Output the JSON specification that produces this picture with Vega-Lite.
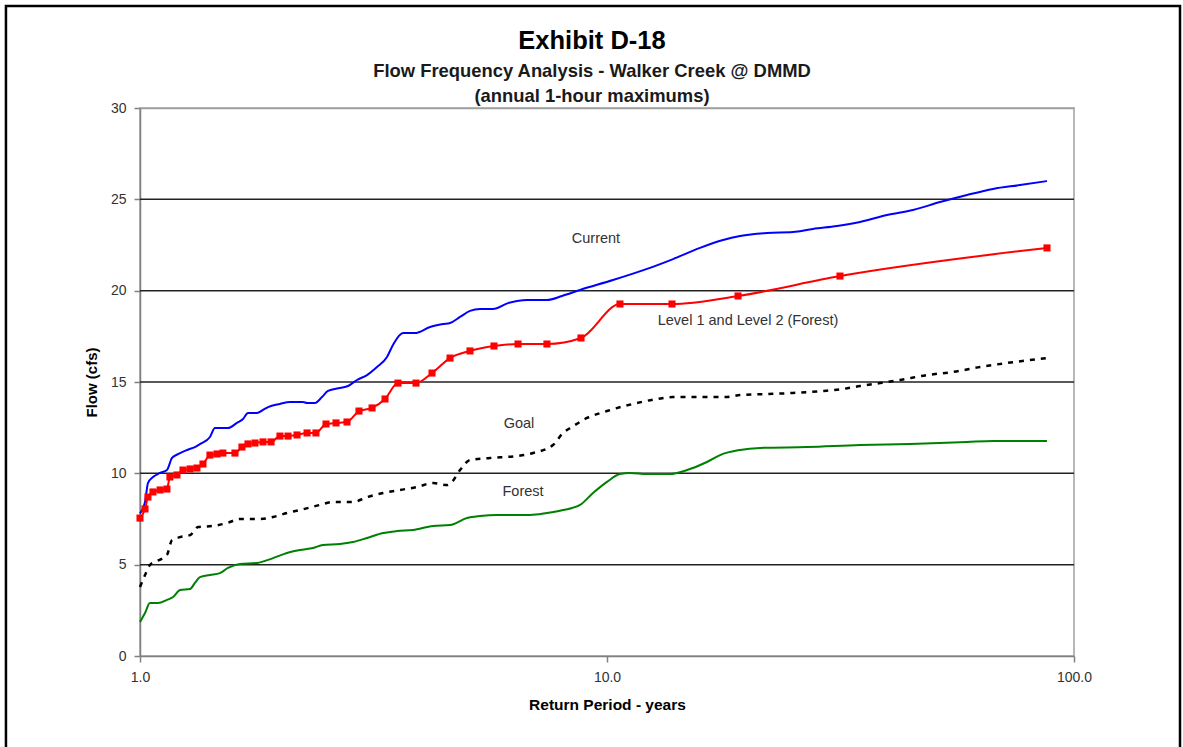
{
  "$schema": "https://vega.github.io/schema/vega-lite/v6.json",
  "autosize": {"type": "none"},
  "padding": {"left": 140, "top": 108, "right": 109, "bottom": 91},
  "width": 934,
  "height": 548,
  "background": "white",
  "config": {
    "font": "Liberation Sans",
    "view": {"stroke": "#a0a0a0", "strokeWidth": 1.5}
  },
  "title": {
    "text": "Exhibit D-18",
    "subtitle": ["Flow Frequency Analysis - Walker Creek @ DMMD", "(annual 1-hour maximums)"],
    "anchor": "middle",
    "frame": "group",
    "offset": -101,
    "dx": -15,
    "font": "Liberation Sans",
    "fontSize": 25.5,
    "fontWeight": "bold",
    "color": "black",
    "subtitleFont": "Liberation Sans",
    "subtitleFontSize": 18.4,
    "subtitleFontWeight": "bold",
    "subtitleColor": "#1a1a1a",
    "subtitlePadding": 8,
    "subtitleLineHeight": 25
  },
  "datasets": {
    "current": [
      {"T": 1.0, "flow": 7.8}, {"T": 1.015, "flow": 8.1}, {"T": 1.025, "flow": 8.43}, {"T": 1.04, "flow": 9.47},
      {"T": 1.066, "flow": 9.8}, {"T": 1.104, "flow": 10.02}, {"T": 1.142, "flow": 10.18}, {"T": 1.171, "flow": 10.84},
      {"T": 1.206, "flow": 11.05}, {"T": 1.261, "flow": 11.28}, {"T": 1.311, "flow": 11.44}, {"T": 1.344, "flow": 11.6},
      {"T": 1.412, "flow": 11.99}, {"T": 1.447, "flow": 12.48}, {"T": 1.543, "flow": 12.48}, {"T": 1.613, "flow": 12.76},
      {"T": 1.662, "flow": 12.97}, {"T": 1.703, "flow": 13.3}, {"T": 1.78, "flow": 13.3}, {"T": 1.834, "flow": 13.47},
      {"T": 1.88, "flow": 13.63}, {"T": 1.994, "flow": 13.8}, {"T": 2.095, "flow": 13.9}, {"T": 2.234, "flow": 13.9},
      {"T": 2.279, "flow": 13.85}, {"T": 2.37, "flow": 13.85}, {"T": 2.453, "flow": 14.18}, {"T": 2.527, "flow": 14.51},
      {"T": 2.68, "flow": 14.67}, {"T": 2.789, "flow": 14.78}, {"T": 2.915, "flow": 15.11}, {"T": 3.063, "flow": 15.38},
      {"T": 3.217, "flow": 15.82}, {"T": 3.38, "flow": 16.37}, {"T": 3.481, "flow": 17.03}, {"T": 3.658, "flow": 17.68},
      {"T": 3.88, "flow": 17.68}, {"T": 4.178, "flow": 18.01}, {"T": 4.455, "flow": 18.17}, {"T": 4.612, "flow": 18.23},
      {"T": 4.844, "flow": 18.56}, {"T": 5.089, "flow": 18.89}, {"T": 5.347, "flow": 19.0}, {"T": 5.7, "flow": 19.0},
      {"T": 6.138, "flow": 19.32}, {"T": 6.417, "flow": 19.43}, {"T": 6.741, "flow": 19.49}, {"T": 7.437, "flow": 19.49},
      {"T": 8.01, "flow": 19.71}, {"T": 8.753, "flow": 20.04}, {"T": 10.3, "flow": 20.58}, {"T": 12.18, "flow": 21.19},
      {"T": 13.85, "flow": 21.73}, {"T": 15.82, "flow": 22.34}, {"T": 17.72, "flow": 22.77}, {"T": 19.27, "flow": 22.99},
      {"T": 22.01, "flow": 23.16}, {"T": 25.02, "flow": 23.21}, {"T": 27.61, "flow": 23.38}, {"T": 31.08, "flow": 23.54},
      {"T": 34.82, "flow": 23.76}, {"T": 39.78, "flow": 24.14}, {"T": 45.22, "flow": 24.42}, {"T": 51.66, "flow": 24.85},
      {"T": 59.01, "flow": 25.24}, {"T": 67.09, "flow": 25.57}, {"T": 76.63, "flow": 25.78}, {"T": 87.53, "flow": 26.0}
    ],
    "goal": [
      {"T": 1.0, "flow": 3.78}, {"T": 1.025, "flow": 4.43}, {"T": 1.05, "flow": 4.98}, {"T": 1.077, "flow": 5.15},
      {"T": 1.142, "flow": 5.53}, {"T": 1.171, "flow": 6.35}, {"T": 1.218, "flow": 6.51}, {"T": 1.28, "flow": 6.62},
      {"T": 1.331, "flow": 7.06}, {"T": 1.433, "flow": 7.12}, {"T": 1.536, "flow": 7.28}, {"T": 1.637, "flow": 7.5},
      {"T": 1.807, "flow": 7.5}, {"T": 1.927, "flow": 7.61}, {"T": 2.064, "flow": 7.83}, {"T": 2.201, "flow": 7.99},
      {"T": 2.429, "flow": 8.27}, {"T": 2.59, "flow": 8.43}, {"T": 2.858, "flow": 8.43}, {"T": 3.063, "flow": 8.7},
      {"T": 3.314, "flow": 8.92}, {"T": 3.603, "flow": 9.09}, {"T": 3.919, "flow": 9.25}, {"T": 4.241, "flow": 9.47},
      {"T": 4.544, "flow": 9.36}, {"T": 4.657, "flow": 9.53}, {"T": 4.844, "flow": 10.18}, {"T": 5.089, "flow": 10.73},
      {"T": 5.616, "flow": 10.84}, {"T": 6.417, "flow": 10.95}, {"T": 6.944, "flow": 11.11}, {"T": 7.662, "flow": 11.55},
      {"T": 8.05, "flow": 12.21}, {"T": 8.416, "flow": 12.54}, {"T": 9.063, "flow": 13.03}, {"T": 10.0, "flow": 13.41},
      {"T": 11.37, "flow": 13.8}, {"T": 12.8, "flow": 14.07}, {"T": 13.85, "flow": 14.18}, {"T": 15.82, "flow": 14.18},
      {"T": 18.07, "flow": 14.18}, {"T": 19.27, "flow": 14.29}, {"T": 22.01, "flow": 14.34}, {"T": 25.02, "flow": 14.4},
      {"T": 29.01, "flow": 14.51}, {"T": 32.02, "flow": 14.62}, {"T": 34.82, "flow": 14.78}, {"T": 38.42, "flow": 14.94},
      {"T": 42.41, "flow": 15.11}, {"T": 48.44, "flow": 15.38}, {"T": 55.07, "flow": 15.55}, {"T": 62.92, "flow": 15.82},
      {"T": 71.86, "flow": 16.04}, {"T": 87.53, "flow": 16.31}
    ],
    "forest": [
      {"T": 1.0, "flow": 1.86}, {"T": 1.025, "flow": 2.35}, {"T": 1.05, "flow": 2.9}, {"T": 1.093, "flow": 2.9},
      {"T": 1.142, "flow": 3.07}, {"T": 1.177, "flow": 3.23}, {"T": 1.218, "flow": 3.61}, {"T": 1.28, "flow": 3.67},
      {"T": 1.311, "flow": 4.0}, {"T": 1.344, "flow": 4.32}, {"T": 1.412, "flow": 4.43}, {"T": 1.483, "flow": 4.54},
      {"T": 1.543, "flow": 4.82}, {"T": 1.637, "flow": 5.04}, {"T": 1.78, "flow": 5.09}, {"T": 1.927, "flow": 5.36},
      {"T": 2.064, "flow": 5.64}, {"T": 2.201, "flow": 5.8}, {"T": 2.347, "flow": 5.91}, {"T": 2.465, "flow": 6.08},
      {"T": 2.68, "flow": 6.13}, {"T": 2.858, "flow": 6.24}, {"T": 3.063, "flow": 6.46}, {"T": 3.314, "flow": 6.73},
      {"T": 3.55, "flow": 6.84}, {"T": 3.842, "flow": 6.9}, {"T": 4.241, "flow": 7.12}, {"T": 4.612, "flow": 7.17},
      {"T": 5.014, "flow": 7.55}, {"T": 5.347, "flow": 7.66}, {"T": 5.814, "flow": 7.72}, {"T": 6.842, "flow": 7.72},
      {"T": 7.437, "flow": 7.83}, {"T": 8.05, "flow": 7.99}, {"T": 8.753, "flow": 8.27}, {"T": 9.333, "flow": 8.92},
      {"T": 10.0, "flow": 9.53}, {"T": 10.66, "flow": 9.96}, {"T": 11.2, "flow": 10.02}, {"T": 12.18, "flow": 9.96},
      {"T": 13.64, "flow": 9.96}, {"T": 14.84, "flow": 10.18}, {"T": 16.37, "flow": 10.62}, {"T": 17.46, "flow": 11.0},
      {"T": 19.27, "flow": 11.28}, {"T": 21.27, "flow": 11.39}, {"T": 26.81, "flow": 11.44}, {"T": 34.82, "flow": 11.55},
      {"T": 44.56, "flow": 11.61}, {"T": 59.01, "flow": 11.72}, {"T": 67.09, "flow": 11.77}, {"T": 87.53, "flow": 11.77}
    ],
    "level": [
      {"T": 1.0, "flow": 7.55}, {"T": 1.025, "flow": 8.05}, {"T": 1.04, "flow": 8.7}, {"T": 1.066, "flow": 8.98},
      {"T": 1.104, "flow": 9.09}, {"T": 1.142, "flow": 9.14}, {"T": 1.159, "flow": 9.8}, {"T": 1.2, "flow": 9.91},
      {"T": 1.236, "flow": 10.18}, {"T": 1.28, "flow": 10.24}, {"T": 1.324, "flow": 10.29}, {"T": 1.364, "flow": 10.51},
      {"T": 1.412, "flow": 11.0}, {"T": 1.462, "flow": 11.06}, {"T": 1.505, "flow": 11.11}, {"T": 1.597, "flow": 11.11},
      {"T": 1.653, "flow": 11.44}, {"T": 1.703, "flow": 11.61}, {"T": 1.763, "flow": 11.66}, {"T": 1.834, "flow": 11.72},
      {"T": 1.908, "flow": 11.72}, {"T": 1.994, "flow": 12.04}, {"T": 2.075, "flow": 12.04}, {"T": 2.169, "flow": 12.1},
      {"T": 2.279, "flow": 12.21}, {"T": 2.381, "flow": 12.21}, {"T": 2.502, "flow": 12.7}, {"T": 2.629, "flow": 12.76},
      {"T": 2.775, "flow": 12.81}, {"T": 2.944, "flow": 13.41}, {"T": 3.14, "flow": 13.58}, {"T": 3.347, "flow": 14.07},
      {"T": 3.568, "flow": 14.94}, {"T": 3.9, "flow": 14.94}, {"T": 4.22, "flow": 15.49}, {"T": 4.612, "flow": 16.31},
      {"T": 5.089, "flow": 16.7}, {"T": 5.728, "flow": 16.97}, {"T": 6.449, "flow": 17.08}, {"T": 7.437, "flow": 17.08},
      {"T": 8.796, "flow": 17.41}, {"T": 10.66, "flow": 19.27}, {"T": 13.78, "flow": 19.27}, {"T": 19.08, "flow": 19.71},
      {"T": 31.54, "flow": 20.8}, {"T": 87.53, "flow": 22.34}
    ],
    "labels": [
      {"label": "Current", "T": 9.47, "flow": 22.83},
      {"label": "Level 1 and Level 2 (Forest)", "T": 20.04, "flow": 18.34},
      {"label": "Goal", "T": 6.48, "flow": 12.7},
      {"label": "Forest", "T": 6.61, "flow": 8.98}
    ],
    "gridlines": [
      {"flow": 5}, {"flow": 10}, {"flow": 15}, {"flow": 20}, {"flow": 25}
    ]
  },
  "layer": [
    {
      "data": {"name": "gridlines"},
      "mark": {"type": "rule", "color": "#222222", "strokeWidth": 1.5},
      "encoding": {
        "y": {
          "field": "flow", "type": "quantitative",
          "scale": {"domain": [0, 30], "nice": false, "zero": false},
          "axis": {
            "orient": "left", "values": [0, 5, 10, 15, 20, 25, 30], "title": "Flow (cfs)", "grid": false,
            "domainColor": "#808080", "domainWidth": 1.5,
            "tickColor": "#808080", "tickSize": 6, "tickWidth": 1.5,
            "labelFont": "Liberation Sans", "labelFontSize": 14, "labelColor": "#333333", "labelPadding": 8,
            "labelFlush": false, "labelOverlap": false,
            "titleFont": "Liberation Sans", "titleFontSize": 15, "titleFontWeight": "bold", "titleColor": "black", "titlePadding": 11
          }
        }
      }
    },
    {
      "data": {"name": "current"},
      "mark": {"type": "line", "color": "#0000ff", "strokeWidth": 2, "interpolate": "monotone"},
      "encoding": {
        "x": {
          "field": "T", "type": "quantitative",
          "scale": {"type": "log", "domain": [1, 100], "nice": false},
          "axis": {
            "orient": "bottom", "values": [1, 10, 100], "format": ".1f",
            "title": "Return Period - years", "grid": false, "zindex": 1,
            "domainColor": "#808080", "domainWidth": 1.5,
            "tickColor": "#808080", "tickSize": 6, "tickWidth": 1.5,
            "labelFont": "Liberation Sans", "labelFontSize": 14, "labelColor": "#333333", "labelPadding": 8,
            "labelFlush": false, "labelOverlap": false,
            "titleFont": "Liberation Sans", "titleFontSize": 15.5, "titleFontWeight": "bold", "titleColor": "black", "titlePadding": 13
          }
        },
        "y": {"field": "flow", "type": "quantitative"}
      }
    },
    {
      "data": {"name": "goal"},
      "mark": {"type": "line", "color": "black", "strokeWidth": 2.5, "strokeDash": [5, 6], "interpolate": "monotone"},
      "encoding": {
        "x": {"field": "T", "type": "quantitative", "axis": null},
        "y": {"field": "flow", "type": "quantitative"}
      }
    },
    {
      "data": {"name": "forest"},
      "mark": {"type": "line", "color": "#008000", "strokeWidth": 2, "interpolate": "monotone"},
      "encoding": {
        "x": {"field": "T", "type": "quantitative", "axis": null},
        "y": {"field": "flow", "type": "quantitative"}
      }
    },
    {
      "data": {"name": "level"},
      "mark": {"type": "line", "color": "#ff0000", "strokeWidth": 2, "interpolate": "monotone",
               "point": {"shape": "square", "size": 50, "color": "#ff0000", "filled": true, "opacity": 1}},
      "encoding": {
        "x": {"field": "T", "type": "quantitative", "axis": null},
        "y": {"field": "flow", "type": "quantitative"}
      }
    },
    {
      "data": {"name": "labels"},
      "mark": {"type": "text", "font": "Liberation Sans", "fontSize": 14.5, "color": "#333333"},
      "encoding": {
        "x": {
          "field": "T", "type": "quantitative",
          "axis": {
            "orient": "top", "values": [100], "labels": false, "ticks": false, "title": null,
            "zindex": 1, "grid": false,
            "domainColor": "#a0a0a0", "domainWidth": 1.5
          }
        },
        "y": {"field": "flow", "type": "quantitative"},
        "text": {"field": "label"}
      }
    },
    {
      "data": {"values": [{}]},
      "mark": {"type": "rect", "fill": null, "fillOpacity": 0, "stroke": "black", "strokeWidth": 2.5, "clip": false},
      "encoding": {
        "x": {"datum": 0.5164, "type": "quantitative", "axis": null},
        "x2": {"datum": 168.65},
        "y": {"datum": 35.584, "type": "quantitative"},
        "y2": {"datum": -6}
      }
    }
  ]
}
